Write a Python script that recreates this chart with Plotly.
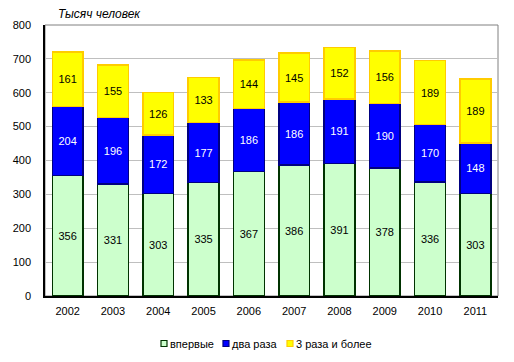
import plotly.graph_objects as go

years = ["2002", "2003", "2004", "2005", "2006", "2007", "2008", "2009", "2010", "2011"]
first = [356, 331, 303, 335, 367, 386, 391, 378, 336, 303]
twice = [204, 196, 172, 177, 186, 186, 191, 190, 170, 148]
three = [161, 155, 126, 133, 144, 145, 152, 156, 189, 189]
names = ["впервые", "два раза", "3 раза и более"]
fills = ["#CCFFCC", "#0000FF", "#FFFF00"]
edges = ["#003300", "#000080", "#FFCC00"]
label_colors = ["black", "white", "black"]

font = "Liberation Sans, Arial, sans-serif"
fig = go.Figure()
for vals, nm, fc, ec, lc in zip([first, twice, three], names, fills, edges, label_colors):
    fig.add_trace(go.Bar(x=years, y=vals, name=nm, text=vals, textposition="inside",
                         insidetextanchor="middle",
                         textfont=dict(color=lc, size=11, family=font),
                         marker=dict(color=fc, line=dict(color=ec, width=1.5))))

fig.update_layout(
    barmode="stack", bargap=0.32,
    width=506, height=354,
    margin=dict(l=37, r=16, t=17, b=66, autoexpand=False),
    paper_bgcolor="white", plot_bgcolor="white",
    font=dict(family=font, size=11, color="black"),
    uniformtext=dict(mode="show", minsize=11),
    showlegend=False,
)
fig.add_annotation(text="<i>Тысяч человек</i>", xref="paper", yref="paper",
                   x=0.0245, y=1.0406, xanchor="left", yanchor="middle",
                   showarrow=False, font=dict(size=12, family=font))

# manual compact legend
sq_x = [0.2561, 0.3929, 0.5342]
tx_x = [0.2715, 0.4084, 0.5497]
for i in range(3):
    fig.add_shape(type="rect", xref="paper", yref="paper",
                  x0=sq_x[i], x1=sq_x[i] + 0.0132, y0=-0.1642, y1=-0.1863,
                  fillcolor=fills[i], line=dict(color=edges[i], width=1.2))
    fig.add_annotation(text=names[i], xref="paper", yref="paper", x=tx_x[i], y=-0.1753,
                       xanchor="left", yanchor="middle", showarrow=False,
                       font=dict(size=11, family=font))

fig.update_xaxes(showline=True, linecolor="black", linewidth=1.5, mirror=False,
                 ticks="", tickfont=dict(size=11), automargin=False,
                 ticklabelstandoff=4)
fig.update_yaxes(range=[0, 800], dtick=100, showgrid=True, gridcolor="#BFBFBF",
                 showline=True, linecolor="black", linewidth=1.5, ticks="",
                 ticklabelstandoff=10, automargin=False,
                 tickfont=dict(size=11), zeroline=False)
fig.add_shape(type="rect", xref="paper", yref="paper", x0=0, x1=1, y0=0, y1=1,
              line=dict(color="#808080", width=1), layer="below")
fig.write_html("out.html")
